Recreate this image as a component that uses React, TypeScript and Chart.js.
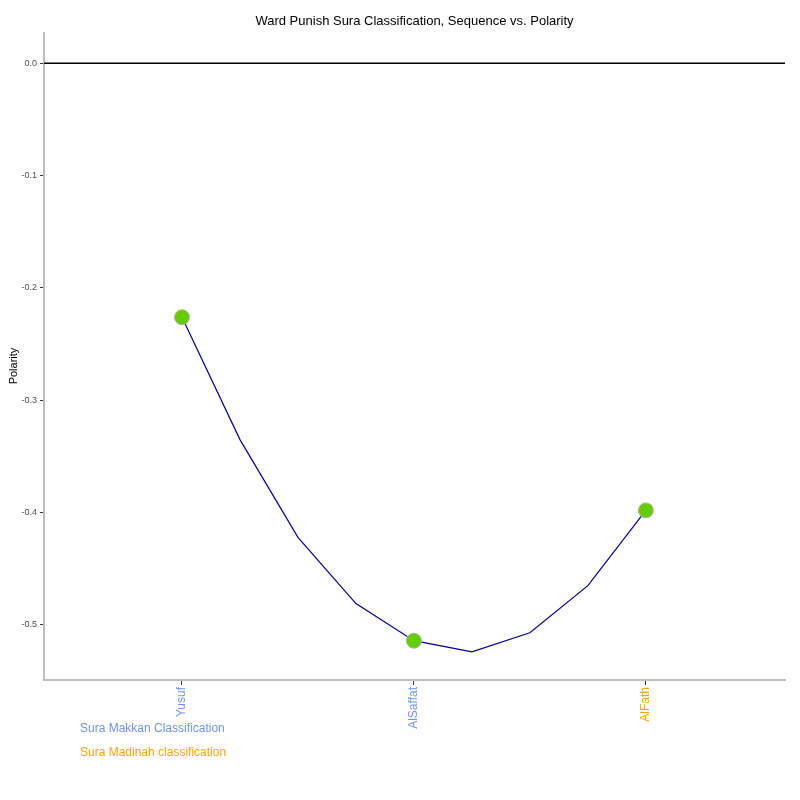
import React, { useEffect, useRef } from "react";
import { Chart, registerables } from "chart.js";

Chart.register(...registerables);

const categories = ["Yusuf", "AlSaffat", "AlFath"];
const categoryColors = ["#6f94e8", "#6f94e8", "#ffa500"];
const pointValues = [-0.226, -0.514, -0.398];
const smoothX = [0, 0.25, 0.5, 0.75, 1, 1.25, 1.5, 1.75, 2];
const smoothValues = [-0.226, -0.335, -0.422, -0.481, -0.514, -0.524, -0.507, -0.465, -0.398];
const yTicks = [0, -0.1, -0.2, -0.3, -0.4, -0.5];
const legendItems = ["Sura Makkan Classification", "Sura Madinah classification"];
const legendColors = ["#6f94e8", "#ffa500"];
const titleText = "Ward Punish Sura Classification, Sequence vs. Polarity";

export default function App() {
  const ref = useRef<HTMLCanvasElement>(null);
  useEffect(() => {
    if (!ref.current) return;
    const deco = {
      id: "deco",
      beforeDatasetsDraw(chart: any) {
        const { ctx, chartArea, scales } = chart;
        const y0 = scales.y.getPixelForValue(0);
        ctx.save();
        ctx.strokeStyle = "#000";
        ctx.lineWidth = 1.5;
        ctx.beginPath();
        ctx.moveTo(chartArea.left, y0);
        ctx.lineTo(chartArea.right, y0);
        ctx.stroke();
        ctx.restore();
      },
      afterDraw(chart: any) {
        const { ctx, chartArea } = chart;
        ctx.save();
        ctx.fillStyle = "#000";
        ctx.font = "13px 'Liberation Sans', Arial, sans-serif";
        ctx.textAlign = "center";
        ctx.textBaseline = "middle";
        ctx.fillText(titleText, (chartArea.left + chartArea.right) / 2, 21);
        ctx.save();
        ctx.translate(14, 366);
        ctx.rotate(-Math.PI / 2);
        ctx.font = "11px 'Liberation Sans', Arial, sans-serif";
        ctx.fillText("Polarity", 0, 0);
        ctx.restore();
        ctx.textAlign = "left";
        ctx.font = "12px 'Liberation Sans', Arial, sans-serif";
        legendItems.forEach((t, i) => {
          ctx.fillStyle = legendColors[i];
          ctx.fillText(t, 80, 729 + i * 24);
        });
        ctx.restore();
      },
    };
    const chart = new Chart(ref.current, {
      type: "scatter",
      data: {
        datasets: [
          {
            type: "line",
            data: smoothX.map((x, i) => ({ x, y: smoothValues[i] })),
            borderColor: "#00008b",
            borderWidth: 1.2,
            pointRadius: 0,
            fill: false,
            order: 2,
          } as any,
          {
            data: pointValues.map((v, i) => ({ x: i, y: v })),
            backgroundColor: "#66cc00",
            borderColor: "#b0b0b0",
            borderWidth: 1,
            pointRadius: 7.5,
            order: 1,
          },
        ],
      },
      plugins: [deco],
      options: {
        responsive: false,
        animation: false,
        layout: { padding: { top: 33, right: 15, left: 0, bottom: 0 } },
        plugins: { legend: { display: false }, tooltip: { enabled: false }, title: { display: false } },
        scales: {
          x: {
            type: "linear",
            min: -0.595,
            max: 2.6,
            afterFit: (a: any) => { a.height = 120; },
            afterBuildTicks: (a: any) => { a.ticks = categories.map((_, i) => ({ value: i })); },
            grid: { drawOnChartArea: false, tickLength: 5, color: "#333" },
            border: { color: "#bebebe", width: 2 },
            ticks: {
              minRotation: 90,
              maxRotation: 90,
              autoSkip: false,
              padding: 2,
              font: { size: 12, family: "'Liberation Sans', Arial, sans-serif" },
              color: (c: any) => categoryColors[c.index] || "#666",
              callback: (v: any) => categories[Math.round(Number(v))] ?? "",
            },
          },
          y: {
            min: -0.549,
            max: 0.027,
            afterFit: (a: any) => { a.width = 44; },
            afterBuildTicks: (a: any) => { a.ticks = yTicks.map((v) => ({ value: v })); },
            grid: { drawOnChartArea: false, tickLength: 4, color: "#333" },
            border: { color: "#bebebe", width: 2 },
            ticks: {
              padding: 3,
              font: { size: 9, family: "'Liberation Sans', Arial, sans-serif" },
              color: "#4d4d4d",
              callback: (v: any) => Number(v).toFixed(1),
            },
          },
        },
      },
    });
    return () => chart.destroy();
  }, []);
  return (
    <div style={{ position: "fixed", left: 0, top: 0, width: 800, height: 800, background: "#fff" }}>
      <canvas ref={ref} width={800} height={800} />
    </div>
  );
}
